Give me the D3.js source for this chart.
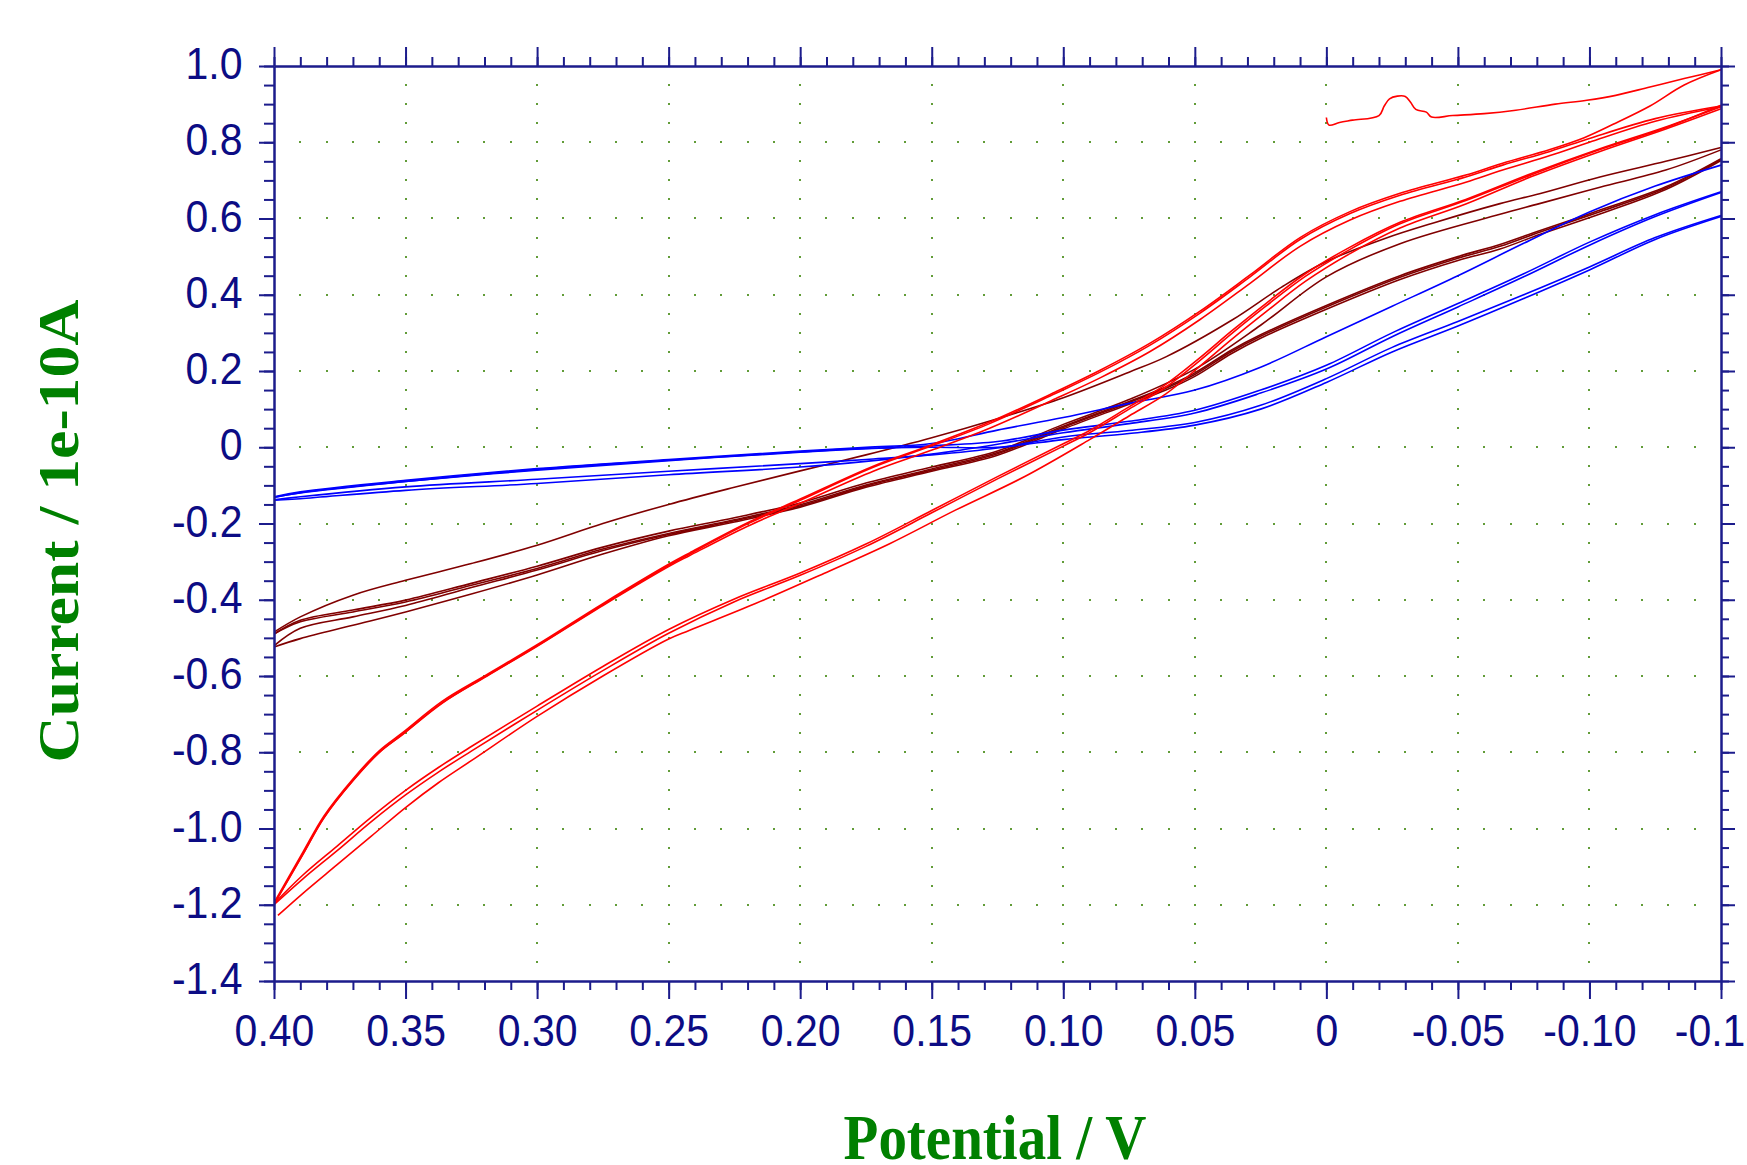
<!DOCTYPE html>
<html>
<head>
<meta charset="utf-8">
<script src="https://cdn.jsdelivr.net/npm/d3@7"></script>
<style>
html,body{margin:0;padding:0;background:#fff;overflow:hidden}
svg{display:block}
</style>
</head>
<body>
<svg id="chart" width="1747" height="1165"></svg>
<script>
// ---------- ticks ----------
const xMajorTicks = [0.40,0.35,0.30,0.25,0.20,0.15,0.10,0.05,0,-0.05,-0.10,-0.15];
const xTickLabels = ["0.40","0.35","0.30","0.25","0.20","0.15","0.10","0.05","0","-0.05","-0.10","-0.15"];
const yMajorTicks = [1.0,0.8,0.6,0.4,0.2,0,-0.2,-0.4,-0.6,-0.8,-1.0,-1.2,-1.4];
const yTickLabels = ["1.0","0.8","0.6","0.4","0.2","0","-0.2","-0.4","-0.6","-0.8","-1.0","-1.2","-1.4"];
const xTitle = "Potential / V";
const yTitle = "Current / 1e-10A";

// ---------- data: [potential V, current 1e-10 A] ----------
const redInitial = [[0.000,0.865],[-0.001,0.845],[-0.005,0.852],[-0.010,0.858],[-0.020,0.870],[-0.022,0.895],[-0.024,0.914],[-0.027,0.921],[-0.030,0.920],[-0.032,0.905],[-0.034,0.886],[-0.038,0.879],[-0.040,0.866],[-0.048,0.870],[-0.060,0.875],[-0.072,0.884],[-0.087,0.900],[-0.099,0.910],[-0.110,0.923],[-0.123,0.945],[-0.136,0.967],[-0.150,0.990]];
const redReverse1 = [[-0.150,0.990],[-0.136,0.950],[-0.123,0.895],[-0.109,0.847],[-0.098,0.812],[-0.085,0.781],[-0.067,0.745],[-0.053,0.714],[-0.028,0.666],[-0.009,0.618],[0.010,0.550],[0.029,0.452],[0.048,0.357],[0.067,0.273],[0.086,0.202],[0.103,0.145],[0.128,0.066],[0.151,0.004],[0.172,-0.049],[0.200,-0.136],[0.220,-0.198],[0.242,-0.277],[0.250,-0.307],[0.275,-0.410],[0.300,-0.518],[0.319,-0.596],[0.336,-0.666],[0.351,-0.748],[0.360,-0.796],[0.370,-0.870],[0.381,-0.967],[0.389,-1.062],[0.400,-1.195]];
const redReverse2 = [[-0.150,0.895],[-0.125,0.862],[-0.100,0.810],[-0.085,0.776],[-0.067,0.740],[-0.053,0.709],[-0.028,0.661],[-0.009,0.613],[0.010,0.545],[0.029,0.447],[0.048,0.352],[0.067,0.268],[0.086,0.197],[0.103,0.141],[0.128,0.062],[0.151,0.001],[0.172,-0.052],[0.200,-0.139],[0.220,-0.201],[0.242,-0.280],[0.250,-0.310],[0.275,-0.413],[0.300,-0.521],[0.319,-0.599],[0.336,-0.670],[0.351,-0.752],[0.360,-0.800],[0.370,-0.874],[0.381,-0.971],[0.389,-1.067],[0.400,-1.198]];
const redReverse3 = [[-0.150,0.893],[-0.125,0.855],[-0.100,0.800],[-0.085,0.765],[-0.067,0.727],[-0.053,0.695],[-0.028,0.645],[-0.009,0.596],[0.010,0.527],[0.029,0.430],[0.048,0.335],[0.067,0.251],[0.086,0.182],[0.103,0.127],[0.128,0.050],[0.151,-0.010],[0.172,-0.062],[0.200,-0.147],[0.220,-0.207],[0.242,-0.284],[0.250,-0.313],[0.275,-0.415],[0.300,-0.522],[0.319,-0.600],[0.336,-0.671],[0.351,-0.753],[0.360,-0.801],[0.370,-0.875],[0.381,-0.972],[0.389,-1.068],[0.400,-1.199]];
const redForward1 = [[0.400,-1.197],[0.389,-1.122],[0.376,-1.046],[0.363,-0.970],[0.350,-0.900],[0.3375,-0.840],[0.325,-0.785],[0.300,-0.679],[0.275,-0.575],[0.250,-0.478],[0.225,-0.398],[0.200,-0.330],[0.175,-0.254],[0.150,-0.166],[0.125,-0.077],[0.100,0.009],[0.090,0.044],[0.075,0.106],[0.061,0.165],[0.048,0.235],[0.036,0.305],[0.023,0.377],[0.008,0.455],[-0.009,0.525],[-0.028,0.590],[-0.053,0.650],[-0.078,0.718],[-0.104,0.783],[-0.129,0.840],[-0.150,0.893]];
const redForward2 = [[0.400,-1.200],[0.389,-1.132],[0.376,-1.058],[0.363,-0.982],[0.350,-0.912],[0.3375,-0.852],[0.325,-0.797],[0.300,-0.690],[0.275,-0.586],[0.250,-0.488],[0.225,-0.405],[0.200,-0.336],[0.175,-0.260],[0.150,-0.172],[0.125,-0.083],[0.100,0.003],[0.090,0.038],[0.075,0.100],[0.061,0.158],[0.048,0.228],[0.036,0.298],[0.023,0.370],[0.008,0.448],[-0.009,0.519],[-0.028,0.586],[-0.053,0.647],[-0.078,0.715],[-0.104,0.781],[-0.129,0.838],[-0.150,0.897]];
const redForward3 = [[0.3985,-1.228],[0.389,-1.170],[0.376,-1.095],[0.363,-1.020],[0.350,-0.945],[0.3375,-0.880],[0.325,-0.822],[0.300,-0.706],[0.275,-0.600],[0.250,-0.503],[0.242,-0.480],[0.217,-0.410],[0.191,-0.331],[0.166,-0.253],[0.141,-0.165],[0.115,-0.078],[0.090,0.020],[0.075,0.082],[0.061,0.140],[0.048,0.213],[0.036,0.283],[0.023,0.355],[0.008,0.435],[-0.009,0.508],[-0.028,0.575],[-0.053,0.638],[-0.078,0.710],[-0.104,0.776],[-0.129,0.835],[-0.150,0.888]];

const brownReverse1 = [[-0.150,0.786],[-0.129,0.750],[-0.104,0.709],[-0.081,0.665],[-0.066,0.639],[-0.041,0.589],[-0.022,0.547],[0.000,0.487],[0.017,0.420],[0.036,0.333],[0.061,0.237],[0.075,0.197],[0.100,0.130],[0.125,0.075],[0.150,0.025],[0.175,-0.020],[0.200,-0.062],[0.225,-0.105],[0.250,-0.150],[0.275,-0.200],[0.300,-0.257],[0.325,-0.305],[0.350,-0.349],[0.370,-0.388],[0.390,-0.445],[0.400,-0.485]];
const brownReverse2 = [[-0.150,0.780],[-0.129,0.727],[-0.104,0.682],[-0.081,0.639],[-0.066,0.611],[-0.028,0.534],[0.000,0.447],[0.025,0.320],[0.050,0.205],[0.075,0.125],[0.100,0.060],[0.125,-0.010],[0.150,-0.052],[0.175,-0.094],[0.200,-0.146],[0.225,-0.185],[0.250,-0.220],[0.275,-0.262],[0.300,-0.312],[0.325,-0.357],[0.350,-0.401],[0.370,-0.427],[0.390,-0.454],[0.400,-0.490]];
const brownForward1 = [[0.400,-0.490],[0.390,-0.458],[0.370,-0.432],[0.350,-0.406],[0.325,-0.362],[0.300,-0.318],[0.275,-0.267],[0.250,-0.226],[0.225,-0.190],[0.200,-0.151],[0.175,-0.099],[0.150,-0.057],[0.125,-0.014],[0.100,0.055],[0.075,0.120],[0.061,0.158],[0.050,0.195],[0.036,0.255],[0.025,0.295],[0.000,0.372],[-0.028,0.450],[-0.050,0.500],[-0.066,0.532],[-0.081,0.568],[-0.104,0.622],[-0.129,0.683],[-0.150,0.757]];
const brownForward2 = [[0.400,-0.521],[0.390,-0.475],[0.370,-0.445],[0.350,-0.415],[0.325,-0.368],[0.300,-0.322],[0.275,-0.271],[0.250,-0.229],[0.225,-0.193],[0.200,-0.154],[0.175,-0.102],[0.150,-0.060],[0.125,-0.017],[0.100,0.052],[0.075,0.117],[0.061,0.155],[0.050,0.191],[0.036,0.251],[0.025,0.291],[0.000,0.368],[-0.028,0.446],[-0.050,0.496],[-0.066,0.527],[-0.081,0.564],[-0.104,0.618],[-0.129,0.680],[-0.150,0.755]];
const brownForward3 = [[0.400,-0.524],[0.390,-0.502],[0.370,-0.467],[0.350,-0.432],[0.325,-0.385],[0.300,-0.335],[0.275,-0.280],[0.250,-0.232],[0.225,-0.196],[0.200,-0.157],[0.175,-0.105],[0.150,-0.063],[0.125,-0.021],[0.100,0.048],[0.075,0.113],[0.061,0.150],[0.050,0.186],[0.036,0.246],[0.025,0.286],[0.000,0.362],[-0.028,0.440],[-0.050,0.490],[-0.066,0.520],[-0.081,0.558],[-0.104,0.612],[-0.129,0.676],[-0.150,0.752]];

const blueTop = [[0.400,-0.130],[0.390,-0.117],[0.350,-0.087],[0.300,-0.056],[0.250,-0.032],[0.200,-0.010],[0.175,0.000],[0.150,0.010],[0.125,0.045],[0.100,0.078],[0.075,0.115],[0.050,0.150],[0.025,0.210],[0.000,0.290],[-0.025,0.370],[-0.050,0.450],[-0.075,0.535],[-0.100,0.617],[-0.125,0.685],[-0.150,0.740]];
const blueMid1 = [[0.400,-0.132],[0.390,-0.119],[0.350,-0.090],[0.300,-0.060],[0.250,-0.035],[0.200,-0.013],[0.175,-0.004],[0.150,0.004],[0.125,0.015],[0.100,0.045],[0.075,0.068],[0.050,0.097],[0.025,0.150],[0.000,0.215],[-0.025,0.300],[-0.050,0.377],[-0.075,0.455],[-0.100,0.538],[-0.125,0.610],[-0.150,0.670]];
const blueMid2 = [[0.400,-0.139],[0.390,-0.135],[0.350,-0.113],[0.300,-0.095],[0.250,-0.072],[0.200,-0.052],[0.175,-0.037],[0.150,-0.018],[0.125,0.008],[0.100,0.038],[0.075,0.062],[0.050,0.090],[0.025,0.142],[0.000,0.205],[-0.025,0.290],[-0.050,0.368],[-0.075,0.447],[-0.100,0.530],[-0.125,0.605],[-0.150,0.668]];
const blueLow1 = [[0.400,-0.138],[0.390,-0.130],[0.350,-0.104],[0.300,-0.084],[0.250,-0.063],[0.200,-0.043],[0.175,-0.032],[0.150,-0.020],[0.125,-0.002],[0.100,0.027],[0.075,0.044],[0.050,0.065],[0.025,0.110],[0.000,0.180],[-0.025,0.262],[-0.050,0.330],[-0.075,0.400],[-0.100,0.473],[-0.125,0.550],[-0.150,0.608]];
const blueLow2 = [[0.400,-0.131],[0.390,-0.120],[0.350,-0.090],[0.300,-0.058],[0.250,-0.034],[0.200,-0.012],[0.175,-0.003],[0.150,0.000],[0.125,0.000],[0.100,0.020],[0.075,0.036],[0.050,0.058],[0.025,0.100],[0.000,0.170],[-0.025,0.250],[-0.050,0.318],[-0.075,0.390],[-0.100,0.465],[-0.125,0.545],[-0.150,0.605]];

const series = [
  {color:"#800000", lines:[brownReverse1,brownReverse2,brownForward1,brownForward2,brownForward3]},
  {color:"#0000ff", lines:[blueTop,blueMid1,blueMid2,blueLow1,blueLow2]},
  {color:"#ff0000", lines:[redInitial,redReverse1,redReverse2,redReverse3,redForward1,redForward2,redForward3]}
];

// ---------- layout ----------
const svg = d3.select("#chart");
const L = 274, R = 1721, T = 66, B = 981;
const x = d3.scaleLinear().domain([0.40,-0.15]).range([L,R]);
const y = d3.scaleLinear().domain([1.0,-1.4]).range([T,B]);
const axisColor = "#1c1c8c";
const labelColor = "#0c0c84";
const gridColor = "#629c38";

const xMinor = d3.range(0,56).map(i => Math.round((0.40 - i*0.01)*100)/100);
const yMinor = d3.range(0,49).map(i => Math.round((1.0 - i*0.05)*100)/100);

// ---------- dotted grid ----------
const dots = [];
yMajorTicks.slice(1,-1).forEach(yv => xMinor.slice(1,-1).forEach(xv => dots.push([xv,yv])));
xMajorTicks.slice(1,-1).forEach(xv => yMinor.slice(1,-1).forEach(yv => dots.push([xv,yv])));
svg.append("g").selectAll("rect").data(dots).join("rect")
  .attr("x", d => Math.round(x(d[0])) - 1)
  .attr("y", d => Math.round(y(d[1])) - 1)
  .attr("width", 2).attr("height", 2)
  .attr("fill", gridColor);

// ---------- curves ----------
svg.append("clipPath").attr("id","plotclip").append("rect")
  .attr("x", L).attr("y", T - 2).attr("width", R - L + 2).attr("height", B - T + 4);
const line = d3.line().x(d => x(d[0])).y(d => y(d[1])).curve(d3.curveCatmullRom.alpha(0.5));
const curves = svg.append("g").attr("clip-path","url(#plotclip)");
series.forEach(s => {
  curves.append("g").selectAll("path").data(s.lines).join("path")
    .attr("d", line)
    .attr("fill","none")
    .attr("stroke", s.color)
    .attr("stroke-width", 1.6)
    .attr("stroke-linejoin","round");
});

// ---------- axes ----------
function styleAxis(g){
  g.select(".domain").attr("stroke", axisColor).attr("stroke-width", 2);
  g.selectAll(".tick line").attr("stroke", axisColor).attr("stroke-width", 2);
  g.attr("font-family", "'Liberation Sans', Arial, sans-serif").attr("font-size", 41);
  g.selectAll(".tick text").attr("fill", labelColor);
}
// bottom
svg.append("g").attr("transform",`translate(0,${B})`)
  .call(d3.axisBottom(x).tickValues(xMinor).tickSize(9).tickFormat("").tickSizeOuter(0)).call(styleAxis);
const gxb = svg.append("g").attr("transform",`translate(0,${B})`)
  .call(d3.axisBottom(x).tickValues(xMajorTicks).tickSize(18).tickSizeOuter(0)
    .tickFormat((d,i) => xTickLabels[i])).call(styleAxis);
gxb.selectAll(".tick text").attr("y", null).attr("dy", null)
  .attr("transform","translate(0,64.8) scale(1,1.1)");
// top
svg.append("g").attr("transform",`translate(0,${T})`)
  .call(d3.axisTop(x).tickValues(xMinor).tickSize(9).tickFormat("").tickSizeOuter(0)).call(styleAxis);
svg.append("g").attr("transform",`translate(0,${T})`)
  .call(d3.axisTop(x).tickValues(xMajorTicks).tickSize(19).tickFormat("").tickSizeOuter(0)).call(styleAxis);
// left
svg.append("g").attr("transform",`translate(${L},0)`)
  .call(d3.axisLeft(y).tickValues(yMinor).tickSize(10).tickFormat("").tickSizeOuter(0)).call(styleAxis);
const gyl = svg.append("g").attr("transform",`translate(${L},0)`)
  .call(d3.axisLeft(y).tickValues(yMajorTicks).tickSize(15).tickSizeOuter(0)
    .tickFormat((d,i) => yTickLabels[i])).call(styleAxis);
gyl.selectAll(".tick text").attr("x", null).attr("dy", null)
  .attr("transform","translate(-31.5,12.6) scale(1,1.1)");
// right
svg.append("g").attr("transform",`translate(${R},0)`)
  .call(d3.axisRight(y).tickValues(yMinor).tickSize(8).tickFormat("").tickSizeOuter(0)).call(styleAxis);
svg.append("g").attr("transform",`translate(${R},0)`)
  .call(d3.axisRight(y).tickValues(yMajorTicks).tickSize(14).tickFormat("").tickSizeOuter(0)).call(styleAxis);

// ---------- titles ----------
svg.append("text")
  .attr("transform","translate(995,1159) scale(1,1.1)")
  .attr("text-anchor","middle")
  .attr("font-family","'Liberation Serif', 'Times New Roman', serif")
  .attr("font-weight","bold").attr("font-size",57)
  .attr("fill","#008000")
  .text(xTitle);
svg.append("text")
  .attr("transform","translate(78,531) scale(1,1.1) rotate(-90)")
  .attr("text-anchor","middle")
  .attr("font-family","'Liberation Serif', 'Times New Roman', serif")
  .attr("font-weight","bold").attr("font-size",58)
  .attr("fill","#008000")
  .text(yTitle);
</script>
</body>
</html>
